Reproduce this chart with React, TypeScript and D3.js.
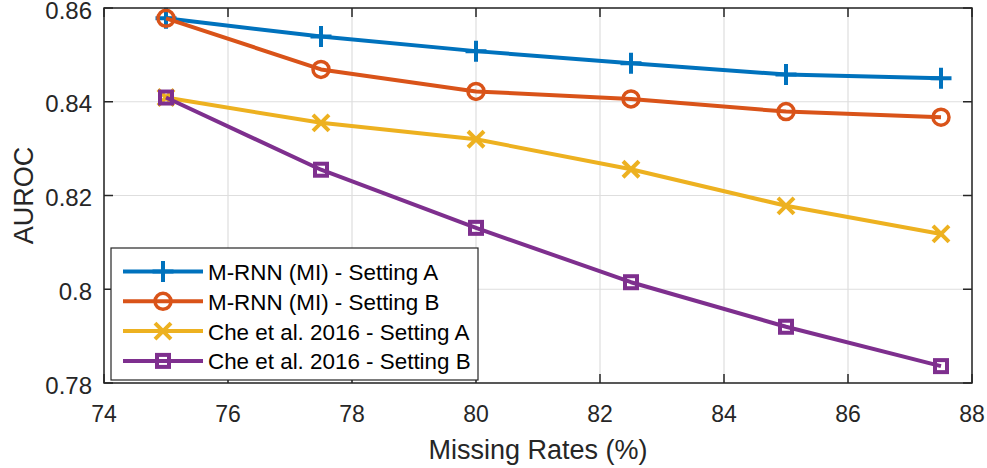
import React, { useEffect, useRef } from 'react'
import * as d3 from 'd3'

// missing rates (%)
const missingRates = [75, 77.5, 80, 82.5, 85, 87.5]

// AUROC per method
const mrnnA = [0.8578, 0.8539, 0.8508, 0.8482, 0.8458, 0.8450]
const mrnnB = [0.8578, 0.8469, 0.8422, 0.8406, 0.8379, 0.8367]
const cheA = [0.8409, 0.8355, 0.8320, 0.8256, 0.8178, 0.8118]
const cheB = [0.8409, 0.8255, 0.8131, 0.8015, 0.7920, 0.7836]

const seriesNames = [
    'M-RNN (MI) - Setting A',
    'M-RNN (MI) - Setting B',
    'Che et al. 2016 - Setting A',
    'Che et al. 2016 - Setting B',
]
const seriesColors = ['#0072BD', '#D95319', '#EDB120', '#7E2F8E']
const seriesMarkers = ['plus', 'circle', 'cross', 'square']

const xTicks = [74, 76, 78, 80, 82, 84, 86, 88]
const yTicks = [0.78, 0.8, 0.82, 0.84, 0.86]

const W = 987
const H = 468
const margin = { left: 104, right: 15, top: 8, bottom: 85 }

function drawMarker(g: any, type: string, x: number, y: number, color: string) {
    if (type === 'plus') {
        const s = 10.5
        g.append('path').attr('d', `M${x - s},${y}H${x + s}M${x},${y - s}V${y + s}`)
            .attr('stroke', color).attr('stroke-width', 4).attr('fill', 'none')
    } else if (type === 'circle') {
        g.append('circle').attr('cx', x).attr('cy', y).attr('r', 8)
            .attr('stroke', color).attr('stroke-width', 3.5).attr('fill', 'none')
    } else if (type === 'cross') {
        const s = 8
        g.append('path').attr('d', `M${x - s},${y - s}L${x + s},${y + s}M${x - s},${y + s}L${x + s},${y - s}`)
            .attr('stroke', color).attr('stroke-width', 4).attr('fill', 'none')
    } else {
        const s = 6
        g.append('rect').attr('x', x - s).attr('y', y - s).attr('width', 2 * s).attr('height', 2 * s)
            .attr('stroke', color).attr('stroke-width', 4).attr('fill', 'none')
    }
}

export default function App() {
    const node = useRef<SVGSVGElement>(null)

    useEffect(() => {
        const svg = d3.select(node.current)
        svg.selectAll('*').remove()
        const font = 'Liberation Sans, Arial, sans-serif'

        const x = d3.scaleLinear().domain([74, 88]).range([margin.left, W - margin.right])
        const y = d3.scaleLinear().domain([0.78, 0.86]).range([H - margin.bottom, margin.top])
        const [x0, x1] = x.range()
        const [y0, y1] = y.range()

        svg.append('rect').attr('x', x0).attr('y', y1).attr('width', x1 - x0).attr('height', y0 - y1).attr('fill', '#fff')

        // grid
        const grid = svg.append('g').attr('stroke', '#dedede').attr('stroke-width', 1.2)
        xTicks.forEach(t => grid.append('line').attr('x1', x(t)).attr('x2', x(t)).attr('y1', y0).attr('y2', y1))
        yTicks.forEach(t => grid.append('line').attr('y1', y(t)).attr('y2', y(t)).attr('x1', x0).attr('x2', x1))

        // series
        const data = [mrnnA, mrnnB, cheA, cheB]
        const line = d3.line<number>().x((d, i) => x(missingRates[i])).y(d => y(d))
        data.forEach((vals, k) => {
            const g = svg.append('g')
            g.append('path').datum(vals).attr('d', line).attr('fill', 'none')
                .attr('stroke', seriesColors[k]).attr('stroke-width', 4).attr('stroke-linejoin', 'round')
            vals.forEach((v, i) => drawMarker(g, seriesMarkers[k], x(missingRates[i]), y(v), seriesColors[k]))
        })

        // box and ticks
        const axis = svg.append('g').attr('stroke', '#262626').attr('stroke-width', 1.5).attr('fill', 'none')
        axis.append('rect').attr('x', x0).attr('y', y1).attr('width', x1 - x0).attr('height', y0 - y1)
        const tl = 9
        xTicks.forEach(t => {
            axis.append('line').attr('x1', x(t)).attr('x2', x(t)).attr('y1', y0).attr('y2', y0 - tl)
            axis.append('line').attr('x1', x(t)).attr('x2', x(t)).attr('y1', y1).attr('y2', y1 + tl)
        })
        yTicks.forEach(t => {
            axis.append('line').attr('y1', y(t)).attr('y2', y(t)).attr('x1', x0).attr('x2', x0 + tl)
            axis.append('line').attr('y1', y(t)).attr('y2', y(t)).attr('x1', x1).attr('x2', x1 - tl)
        })

        const fmtY = (t: number) => (t === 0.8 ? '0.8' : t.toFixed(2))
        xTicks.forEach(t => svg.append('text').attr('x', x(t)).attr('y', y0 + 38.5).attr('text-anchor', 'middle')
            .attr('font-family', font).attr('font-size', 23).attr('fill', '#262626').text(String(t)))
        yTicks.forEach(t => svg.append('text').attr('x', x0 - 12).attr('y', y(t) + 10.5).attr('text-anchor', 'end')
            .attr('font-family', font).attr('font-size', 24).attr('fill', '#262626').text(fmtY(t)))

        svg.append('text').attr('x', (x0 + x1) / 2).attr('y', 459).attr('text-anchor', 'middle')
            .attr('font-family', font).attr('font-size', 27).attr('fill', '#262626').text('Missing Rates (%)')
        svg.append('text').attr('transform', `translate(33,${(y0 + y1) / 2}) rotate(-90)`).attr('text-anchor', 'middle')
            .attr('font-family', font).attr('font-size', 27).attr('fill', '#262626').text('AUROC')

        // legend
        const lg = svg.append('g')
        lg.append('rect').attr('x', 111).attr('y', 248).attr('width', 367).attr('height', 132)
            .attr('fill', '#fff').attr('stroke', '#262626').attr('stroke-width', 1.2)
        seriesNames.forEach((name, k) => {
            const cy = 271.5 + k * 29.8
            lg.append('line').attr('x1', 123).attr('x2', 203).attr('y1', cy).attr('y2', cy)
                .attr('stroke', seriesColors[k]).attr('stroke-width', 4)
            drawMarker(lg, seriesMarkers[k], 163, cy, seriesColors[k])
            lg.append('text').attr('x', 208).attr('y', cy + 8.5)
                .attr('font-family', font).attr('font-size', 22.4).attr('fill', '#000').text(name)
        })
    }, [])

    return (
        <svg ref={node} width={W} height={H} style={{ position: 'absolute', left: 0, top: 0, background: '#fff' }} />
    )
}
